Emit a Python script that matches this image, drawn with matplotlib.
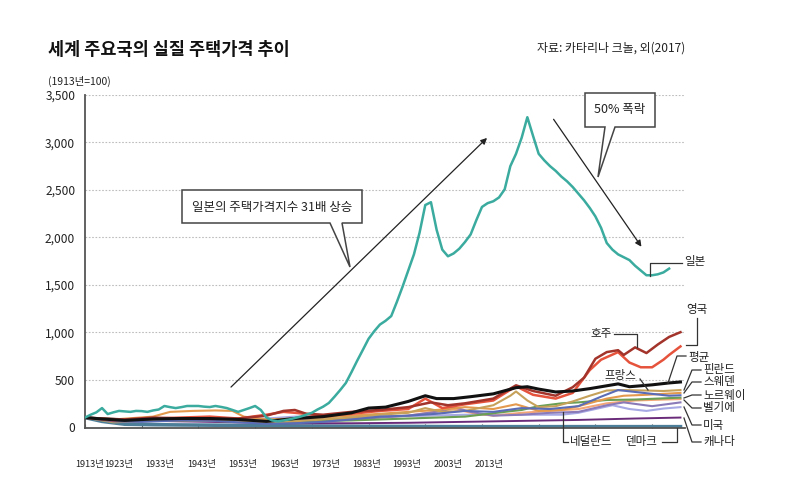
import matplotlib
matplotlib.use('Agg')
import matplotlib.pyplot as plt
from matplotlib.patches import Polygon
from matplotlib.ticker import FuncFormatter

plt.rcParams['font.family'] = ['Noto Sans CJK KR', 'DejaVu Sans']

# ---------------- data ----------------
japan_years = list(range(1913, 2017))
japan_values = [
    100, 130, 155, 200, 137, 155, 170, 165, 160, 170,
    168, 160, 175, 185, 222, 210, 200, 210, 222, 222,
    222, 215, 211, 222, 212, 200, 180, 160, 180, 200,
    222, 180, 100, 70, 60, 70, 80, 95, 110, 130,
    150, 185, 215, 254, 320, 390, 465, 580, 700, 814,
    930, 1010, 1080, 1120, 1170, 1320, 1480, 1650, 1820, 2050,
    2340, 2370, 2080, 1870, 1800, 1830, 1880, 1950, 2030, 2180,
    2320, 2360, 2380, 2420, 2505, 2750, 2880, 3050, 3266, 3070,
    2880, 2810, 2750, 2700, 2640, 2590, 2530, 2460, 2390, 2310,
    2220, 2100, 1940, 1870, 1820, 1790, 1760, 1700, 1650, 1600,
    1600, 1610, 1630, 1670,
]

aus_years = [1913, 1916, 1920, 1925, 1930, 1935, 1940, 1945, 1948, 1950, 1952, 1955, 1960, 1965,
             1970, 1974, 1977, 1980, 1985, 1989, 1992, 1996, 1999, 2001, 2003, 2005, 2007, 2008,
             2010, 2012, 2014, 2016, 2018]
aus_values = [100, 90, 80, 100, 90, 85, 90, 120, 170, 180, 140, 130, 160, 180,
              210, 260, 230, 250, 300, 440, 380, 330, 420, 520, 720, 790, 810, 760,
              840, 780, 870, 950, 1000]

uk_years = [1913, 1918, 1920, 1925, 1930, 1935, 1940, 1945, 1948, 1950, 1955, 1960, 1965, 1970,
            1973, 1976, 1978, 1980, 1985, 1989, 1992, 1996, 1999, 2002, 2004, 2007, 2009, 2011,
            2013, 2015, 2016, 2018]
uk_values = [100, 70, 80, 90, 100, 110, 90, 130, 160, 150, 120, 140, 170, 190,
             300, 200, 220, 240, 280, 430, 340, 300, 360, 600, 710, 790, 680, 630,
             630, 710, 760, 850]

avg_years = [1913, 1916, 1920, 1925, 1930, 1935, 1940, 1945, 1950, 1955, 1960, 1963, 1966, 1970,
             1973, 1975, 1978, 1981, 1985, 1989, 1991, 1993, 1996, 1999, 2002, 2004, 2007, 2009,
             2013, 2016, 2018]
avg_values = [100, 85, 70, 85, 90, 90, 80, 60, 90, 110, 150, 200, 210, 270,
              330, 300, 300, 320, 350, 415, 425, 400, 370, 380, 405, 425, 455, 425,
              445, 465, 475]

fra_years = [1913, 1918, 1923, 1930, 1936, 1940, 1945, 1950, 1955, 1960, 1965, 1970, 1975, 1980,
             1985, 1990, 1995, 2000, 2004, 2007, 2010, 2013, 2016, 2018]
fra_values = [100, 60, 55, 70, 65, 50, 35, 40, 55, 80, 110, 120, 140, 170,
              160, 200, 190, 220, 320, 390, 370, 350, 330, 335]

fin_years = [1913, 1918, 1922, 1930, 1940, 1945, 1950, 1955, 1960, 1965, 1970, 1973, 1976, 1980,
             1985, 1988, 1989, 1991, 1993, 1996, 1999, 2002, 2005, 2008, 2012, 2015, 2018]
fin_values = [100, 50, 60, 70, 60, 40, 60, 80, 100, 130, 150, 200, 160, 170,
              230, 330, 375, 280, 210, 220, 270, 330, 385, 390, 385, 380, 390]

swe_years = [1913, 1918, 1925, 1928, 1932, 1936, 1939, 1941, 1945, 1950, 1955, 1960, 1965, 1970,
             1975, 1980, 1985, 1989, 1993, 1997, 2000, 2005, 2008, 2012, 2015, 2018]
swe_values = [100, 80, 110, 160, 170, 175, 170, 110, 80, 90, 100, 120, 140, 160,
              180, 210, 190, 240, 170, 180, 220, 300, 330, 340, 350, 360]

nor_years = [1913, 1920, 1930, 1940, 1945, 1950, 1960, 1970, 1980, 1987, 1990, 1993, 1997, 2000,
             2005, 2010, 2014, 2018]
nor_values = [100, 80, 70, 60, 55, 60, 70, 90, 110, 160, 180, 220, 250, 260,
              285, 290, 300, 310]

bel_years = [1913, 1920, 1930, 1940, 1945, 1950, 1960, 1970, 1978, 1982, 1985, 1990, 1995, 2000,
             2005, 2010, 2015, 2018]
bel_values = [100, 70, 90, 70, 50, 70, 90, 120, 190, 140, 120, 150, 170, 190,
              250, 280, 290, 295]

usa_years = [1913, 1918, 1925, 1932, 1940, 1945, 1950, 1960, 1970, 1980, 1990, 1997, 2000, 2006,
             2009, 2012, 2015, 2018]
usa_values = [100, 70, 90, 70, 75, 90, 110, 115, 115, 130, 130, 130, 150, 230,
              190, 170, 195, 210]

can_years = [1913, 1920, 1930, 1940, 1950, 1960, 1970, 1980, 1990, 2000, 2010, 2018]
can_values = [100, 70, 60, 50, 40, 40, 45, 55, 65, 75, 90, 100]

nld_years = [1913, 1920, 1930, 1940, 1945, 1950, 1960, 1970, 1976, 1978, 1981, 1985, 1990, 1995,
             2000, 2005, 2008, 2013, 2018]
nld_values = [100, 80, 90, 70, 60, 70, 80, 120, 170, 210, 160, 120, 130, 150,
              160, 230, 260, 220, 260]

dnk_years = [1913, 1916, 1920, 1925, 1930, 1940, 1950, 1960, 1970, 1980, 2000, 2018]
dnk_values = [100, 60, 30, 25, 22, 18, 12, 8, 6, 4, 4, 4]

x_tick_years = list(range(1913, 2014, 10))
x_tick_labels = ['1913년', '1923년', '1933년', '1943년', '1953년', '1963년',
                 '1973년', '1983년', '1993년', '2003년', '2013년']
y_ticks = [0, 500, 1000, 1500, 2000, 2500, 3000, 3500]

# ---------------- layout ----------------
W, H = 800, 497
AX_L, AX_R, AX_T, AX_B = 85, 685, 95, 428
XMIN, XMAX = 1913, 2018.8
YMIN, YMAX = -10, 3500


def P(px, py):
    return (XMIN + (px - AX_L) / (AX_R - AX_L) * (XMAX - XMIN),
            YMIN + (AX_B - py) / (AX_B - AX_T) * (YMAX - YMIN))


fig = plt.figure(figsize=(W / 100, H / 100), dpi=100)
ax = fig.add_axes([AX_L / W, 1 - AX_B / H, (AX_R - AX_L) / W, (AX_B - AX_T) / H])
ax.set_xlim(XMIN, XMAX)
ax.set_ylim(YMIN, YMAX)

minor = [
    (dnk_years, dnk_values, '#4d7e99', 2.6),
    (can_years, can_values, '#6a2c7a', 1.4),
    (usa_years, usa_values, '#a7a9e4', 1.5),
    (bel_years, bel_values, '#f3a677', 1.5),
    (nld_years, nld_values, '#8a7ab8', 1.5),
    (nor_years, nor_values, '#6a9e54', 1.5),
    (swe_years, swe_values, '#e39a4f', 1.5),
    (fin_years, fin_values, '#c6a15a', 1.5),
    (fra_years, fra_values, '#5b6cb6', 1.5),
]
for xs, ys, c, lw in minor:
    ax.plot(xs, ys, color=c, lw=lw, zorder=2)

ax.plot(uk_years, uk_values, color='#e6533c', lw=1.8, zorder=3)
ax.plot(aus_years, aus_values, color='#a3342b', lw=1.8, zorder=3)
ax.plot(avg_years, avg_values, color='#111111', lw=2.2, zorder=4)
ax.plot(japan_years, japan_values, color='#3aab9e', lw=1.8, zorder=5)

# axes styling
for s in ['top', 'right']:
    ax.spines[s].set_visible(False)
ax.spines['left'].set_color('#555555')
ax.spines['left'].set_linewidth(1.3)
ax.spines['bottom'].set_color('#555555')
ax.spines['bottom'].set_linewidth(1.3)
ax.set_yticks(y_ticks)
ax.yaxis.set_major_formatter(FuncFormatter(lambda v, p: f'{int(v):,}'))
ax.tick_params(axis='y', length=0, pad=7, labelsize=8.6, labelcolor='#222222')
for v in y_ticks[1:]:
    ax.axhline(v, color='#bdbdbd', lw=0.8, ls=(0, (1.5, 1.5)), zorder=1)
ax.set_xticks(x_tick_years)
ax.tick_params(axis='x', direction='in', length=3, color='#555555', labelbottom=False)

# x tick labels (placed as in the original, compressed)
label_px = [90, 119, 160, 202, 243, 285, 326, 367, 407, 448, 489]
for px, lab in zip(label_px, x_tick_labels):
    fig.text(px / W, 1 - 465 / H, lab, ha='center', va='center', fontsize=6.6, color='#222222')

# titles
fig.text(48 / W, 1 - 50 / H, '세계 주요국의 실질 주택가격 추이', fontsize=12.6, fontweight='bold',
         ha='left', va='center', color='#111111')
fig.text(685 / W, 1 - 48 / H, '자료: 카타리나 크놀, 외(2017)', fontsize=8.6,
         ha='right', va='center', color='#222222')
fig.text(48 / W, 1 - 81 / H, '(1913년=100)', fontsize=7.5, ha='left', va='center', color='#222222')

# arrows
ax.annotate('', xy=P(489, 136), xytext=P(229, 389),
            arrowprops=dict(arrowstyle='-|>', color='#222222', lw=0.9, mutation_scale=9),
            annotation_clip=False, zorder=6)
ax.annotate('', xy=P(643, 249), xytext=P(552, 117),
            arrowprops=dict(arrowstyle='-|>', color='#222222', lw=0.9, mutation_scale=9),
            annotation_clip=False, zorder=6)

# speech bubbles
b1 = [(182, 190), (362, 190), (362, 223), (342, 223), (350, 267), (330, 223), (182, 223)]
b2 = [(585, 93), (655, 93), (655, 127), (615, 127), (598, 177), (605, 127), (585, 127)]
for pts in (b1, b2):
    ax.add_patch(Polygon([P(*p) for p in pts], closed=True, facecolor='white',
                         edgecolor='#444444', lw=1.1, zorder=7, clip_on=False))
ax.text(*P(272, 207), '일본의 주택가격지수 31배 상승', fontsize=9, ha='center', va='center',
        color='#222222', zorder=8)
ax.text(*P(620, 110), '50% 폭락', fontsize=9, ha='center', va='center', color='#222222', zorder=8)


def leader(pts):
    xs, ys = zip(*[P(*p) for p in pts])
    ax.plot(xs, ys, color='#333333', lw=0.9, clip_on=False, zorder=6)


def label(px, py, s, ha='left'):
    ax.text(*P(px, py), s, fontsize=8.3, ha=ha, va='center', color='#222222', zorder=8)


# labels and leader lines
leader([(650, 276), (650, 263), (682, 263)]); label(684, 262, '일본')
leader([(697, 318), (697, 345), (686, 345)]); label(697, 309, '영국', ha='center')
leader([(614, 334), (637, 334), (637, 347)]); label(612, 334, '호주', ha='right')
leader([(686, 356), (677, 356), (668, 383)]); label(688, 357, '평균')
leader([(640, 379), (648, 390)]); label(620, 375, '프랑스', ha='center')

right_labels = [(370, 390, '핀란드'), (382, 393, '스웨덴'), (395, 398, '노르웨이'),
                (408, 400, '벨기에'), (425, 407, '미국'), (442, 418, '캐나다')]
for ly, ey, s in right_labels:
    leader([(701, ly), (692, ly), (684, ey)])
    label(703, ly, s)

leader([(568, 442), (563, 442), (563, 412)]); label(570, 442, '네덜란드')
leader([(662, 442), (677, 442), (677, 428)]); label(626, 442, '덴마크')

fig.savefig('out.png', dpi=100)
